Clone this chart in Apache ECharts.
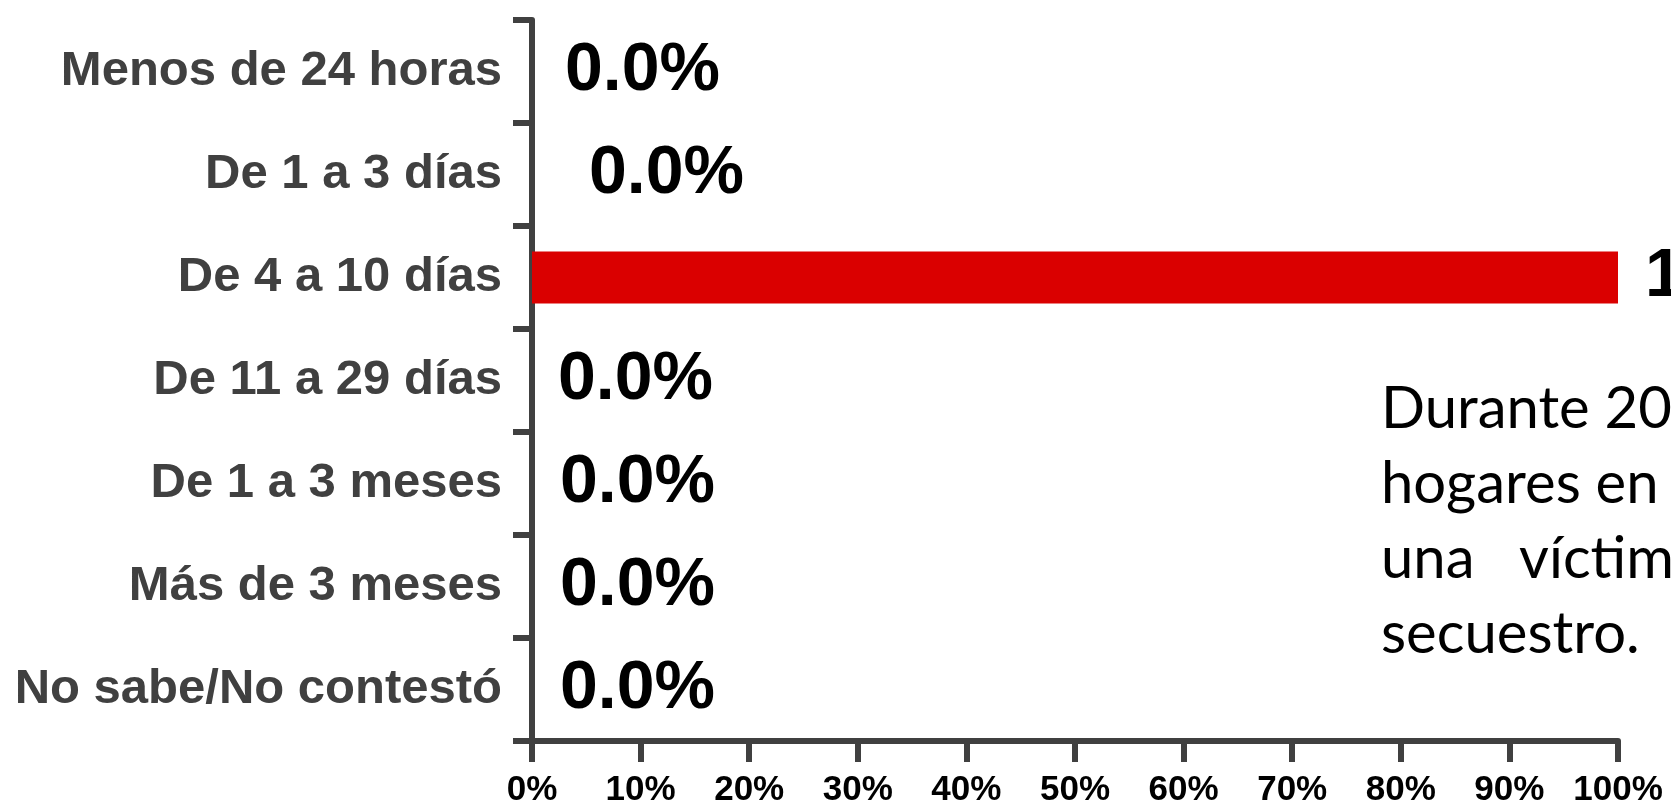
<!DOCTYPE html>
<html>
<head>
<meta charset="utf-8">
<title>Duración del secuestro</title>
<script src="https://cdn.jsdelivr.net/npm/echarts@6/dist/echarts.min.js"></script>
<style>
  html, body { margin: 0; padding: 0; background: #fff; }
  #chart { width: 1671px; height: 808px; }
</style>
</head>
<body>
<div id="chart"></div>
<script>
// datos
const categories = [
  'Menos de 24 horas',
  'De 1 a 3 días',
  'De 4 a 10 días',
  'De 11 a 29 días',
  'De 1 a 3 meses',
  'Más de 3 meses',
  'No sabe/No contestó'
];
const percentages = [0, 0, 100, 0, 0, 0, 0];
const xTicks = [0, 10, 20, 30, 40, 50, 60, 70, 80, 90, 100];

const noteLines = [
  'Durante 2019, el 0.1% de los',
  'hogares en el estado tuvo',
  'una   víctima   de',
  'secuestro.'
];

// separación de cada etiqueta respecto a la barra (en px)
const labelGap = [33, 57, 27, 26, 28, 28, 28];

const AXIS_COLOR = '#404040';
const BAR_COLOR = '#da0000';

let myChart = echarts.init(document.getElementById('chart'));

const option = {
  backgroundColor: '#ffffff',
  animation: false,
  grid: { left: 532, right: 53, top: 20, bottom: 64, containLabel: false },
  xAxis: {
    type: 'value',
    min: xTicks[0],
    max: xTicks[xTicks.length - 1],
    interval: xTicks[1] - xTicks[0],
    axisLine: { show: true, lineStyle: { color: AXIS_COLOR, width: 6 } },
    axisTick: { show: true, length: 21, lineStyle: { color: AXIS_COLOR, width: 6 } },
    splitLine: { show: false },
    axisLabel: {
      formatter: '{value}%',
      margin: 32,
      color: '#000',
      fontFamily: 'Liberation Sans',
      fontWeight: 'bold',
      fontSize: 35
    }
  },
  yAxis: {
    type: 'category',
    inverse: true,
    data: categories,
    axisLine: { show: true, lineStyle: { color: AXIS_COLOR, width: 6 } },
    axisTick: { show: true, length: 19, lineStyle: { color: AXIS_COLOR, width: 6 } },
    axisLabel: {
      margin: 30,
      color: AXIS_COLOR,
      fontFamily: 'Liberation Sans',
      fontWeight: 'bold',
      fontSize: 49
    }
  },
  series: [
    {
      type: 'bar',
      barWidth: 52,
      itemStyle: { color: BAR_COLOR },
      data: percentages.map((v, i) => ({
        value: v,
        label: { distance: labelGap[i] }
      })),
      label: {
        show: true,
        position: 'right',
        color: '#000',
        fontFamily: 'Liberation Sans',
        fontWeight: 'bold',
        fontSize: 68,
        formatter: (p) => p.value.toFixed(1) + '%'
      }
    }
  ],
  graphic: [
    {
      type: 'text',
      left: 1381,
      top: 372,
      silent: true,
      style: {
        text: noteLines.join('\n'),
        font: 'normal 58px Lato',
        lineHeight: 75,
        fill: '#000'
      }
    }
  ]
};

myChart.setOption(option);
</script>
</body>
</html>
